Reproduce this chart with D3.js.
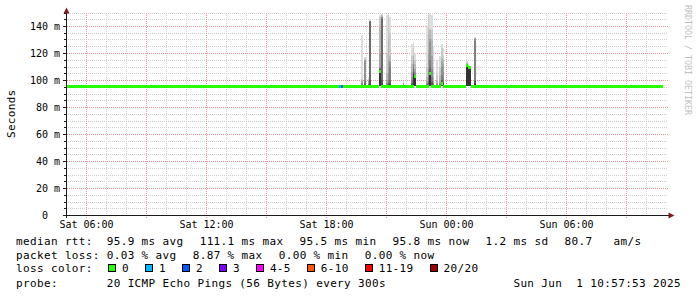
<!DOCTYPE html>
<html>
<head>
<meta charset="utf-8">
<script src="https://cdn.jsdelivr.net/npm/d3@7"></script>
<style>
    body { margin: 0; background: #fff; }
    svg { display: block; }
    text { font-family: "DejaVu Sans Mono", monospace; fill: #000; white-space: pre; }
</style>
</head>
<body>
<svg id="chart" width="697" height="297"></svg>
<script>
// time window and axis ticks
const graphStart = "2025-05-31 05:00";
const graphEnd = "2025-06-01 11:00";
const xLabelTimes = ["2025-05-31 06:00", "2025-05-31 12:00", "2025-05-31 18:00", "2025-06-01 00:00", "2025-06-01 06:00"];
const yTicks = [0, 20, 40, 60, 80, 100, 120, 140];
const yMax = 150;

// quiet median (ms) between first and last sample
const medianRuns = [["2025-05-31 05:00", "2025-06-01 10:50", 95.6]];
const lossSteps = [["2025-05-31 18:40", 1], ["2025-05-31 18:45", 2]];
const lowRtt = 95.4;

// steps with visible smoke: time, median, upper pings (outer -> inner)
const smokeTimes = [
    "2025-05-31 19:45", "2025-05-31 19:55", "2025-05-31 20:05", "2025-05-31 20:10",
    "2025-05-31 20:40", "2025-05-31 20:45", "2025-05-31 21:00", "2025-05-31 21:05",
    "2025-05-31 21:10", "2025-05-31 21:50", "2025-05-31 22:15", "2025-05-31 22:20",
    "2025-05-31 22:25", "2025-05-31 23:00", "2025-05-31 23:05", "2025-05-31 23:10",
    "2025-05-31 23:15", "2025-05-31 23:20", "2025-05-31 23:30", "2025-05-31 23:40",
    "2025-05-31 23:45", "2025-05-31 23:50", "2025-06-01 01:00", "2025-06-01 01:05",
    "2025-06-01 01:10", "2025-06-01 01:25"
];
const smokeMedians = [
    95.6, 95.6, 95.6, 95.6,
    107, 95.6, 95.6, 95.6,
    95.6, 95.6, 95.6, 95.6,
    103, 95.6, 95.6, 105,
    95.6, 95.6, 95.6, 95.6,
    98, 95.6, 111, 110,
    110, 95.6
];
const smokeTops = [
    [133, 101, 100, 99, 98, 97, 96.5, 96.3, 96.1, 96],
    [117, 116, 115, 115, 114, 100, 98, 97, 96.5, 96],
    [102, 101, 100, 99, 98, 97, 96.5, 96.3, 96.1, 96],
    [145, 144, 144, 144, 144, 144, 143, 100, 97, 96],
    [148, 147, 140, 120, 110, 109, 108.5, 108, 107.5, 107],
    [149, 148, 148, 147, 147, 146, 145, 100, 97, 96],
    [148, 120, 105, 100, 98, 97, 96.5, 96.3, 96.1, 96],
    [149, 148, 130, 115, 105, 100, 98, 97, 96.5, 96],
    [147, 135, 118, 114, 113, 110, 100, 98, 97, 96],
    [99, 98, 97.5, 97, 96.8, 96.6, 96.4, 96.2, 96.1, 96],
    [127, 118, 112, 106, 102, 100, 98, 97, 96.5, 96],
    [128, 124, 118, 115, 112, 110, 108, 106, 105, 104],
    [120, 115, 112, 108, 106, 104.5, 104, 103.5, 103.2, 103],
    [140, 110, 102, 99, 98, 97, 96.5, 96.3, 96.1, 96],
    [149, 148, 135, 120, 108, 102, 99, 97.5, 96.5, 96],
    [149, 138, 137, 130, 128, 115, 110, 107, 106, 105],
    [148, 137, 130, 118, 108, 102, 99, 97.5, 96.5, 96],
    [125, 110, 102, 99, 98, 97, 96.5, 96.3, 96.1, 96],
    [115, 104, 100, 98, 97, 96.5, 96.3, 96.2, 96.1, 96],
    [118, 110, 103, 100, 98, 97, 96.5, 96.3, 96.1, 96],
    [127, 124, 116, 114, 110, 104, 100, 99, 98.5, 98],
    [124, 118, 115, 112, 106, 101, 99, 98, 97, 96.5],
    [114, 113, 112.5, 112, 111.8, 111.5, 111.3, 111.2, 111.1, 111],
    [112, 111, 110.8, 110.6, 110.4, 110.3, 110.2, 110.1, 110.05, 110],
    [110.5, 110.4, 110.3, 110.2, 110.1, 110, 110, 110, 110, 110],
    [132, 131, 131, 130.5, 130, 129, 100, 99, 98, 97]
];

// legend
const rttValues = ["95.9", "111.1", "95.5", "95.8"];
const statKinds = ["avg", "max", "min", "now"];
const rttSd = "1.2";
const rttAmps = "80.7";
const lossValues = ["0.03", "8.87", "0.00", "0.00"];
const lossLabels = ["0", "1", "2", "3", "4-5", "6-10", "11-19", "20/20"];
const lossColors = ["#26ff00", "#00b8ff", "#0059ff", "#7e00ff", "#ff00ff", "#ff5500", "#ff0000", "#a10000"];
const probeText = "20 ICMP Echo Pings (56 Bytes) every 300s";
const stampText = "Sun Jun  1 10:57:53 2025";

const parse = d3.timeParse("%Y-%m-%d %H:%M");
const step = d3.timeMinute.every(5);

const svg = d3.select("#chart");

const x = d3.scaleTime()
    .domain([parse(graphStart), parse(graphEnd)])
    .range([66, 666]);
const y = d3.scaleLinear()
    .domain([0, yMax])
    .range([215, 12.5]);

const plotTop = y(yMax);
const plotBottom = y(0);
const px = v => Math.round(v) + 0.5;

// grid
const grid = svg.append("g").attr("shape-rendering", "crispEdges").attr("stroke-dasharray", "1,1");

const minorY = d3.range(5, yMax + 1, 5).filter(v => v % 20 !== 0);
grid.selectAll(".hminor")
    .data(minorY)
    .join("line")
    .attr("x1", 64).attr("x2", 668)
    .attr("y1", d => px(y(d))).attr("y2", d => px(y(d)))
    .attr("stroke", "#cfcfcf");

const hours = d3.timeHour.range(d3.timeHour.offset(parse(graphStart), 1), parse(graphEnd));
grid.selectAll(".vminor")
    .data(hours.filter(d => d.getHours() % 3 !== 0))
    .join("line")
    .attr("x1", d => px(x(d))).attr("x2", d => px(x(d)))
    .attr("y1", plotTop).attr("y2", plotBottom + 2)
    .attr("stroke", "#cfcfcf");

grid.selectAll(".hmajor")
    .data(yTicks.filter(v => v > 0))
    .join("line")
    .attr("x1", 63).attr("x2", 668)
    .attr("y1", d => px(y(d))).attr("y2", d => px(y(d)))
    .attr("stroke", "#ec9696");

grid.selectAll(".vmajor")
    .data(hours.filter(d => d.getHours() % 3 === 0))
    .join("line")
    .attr("x1", d => px(x(d))).attr("x2", d => px(x(d)))
    .attr("y1", plotTop).attr("y2", plotBottom + 3)
    .attr("stroke", "#ec9696");

// smoke: bands between lowest and upper pings, darker toward the median
const smoke = svg.append("g").attr("shape-rendering", "crispEdges");
smokeTimes.forEach((t, k) => {
    const t0 = parse(t);
    const x0 = Math.round(x(t0));
    const x1 = Math.round(x(step.offset(t0, 1)));
    smokeTops[k].forEach((hi, i) => {
        const g = Math.round(221 - i * 19);
        smoke.append("rect")
            .attr("x", x0)
            .attr("width", Math.max(1, x1 - x0))
            .attr("y", Math.round(y(hi)))
            .attr("height", Math.max(1, Math.round(y(lowRtt)) - Math.round(y(hi))))
            .attr("fill", d3.rgb(g, g, g));
    });
});

// median, coloured by loss, one short band per step
const stepMedian = new Map();
medianRuns.forEach(([from, to, med]) => {
    step.range(parse(from), parse(to)).forEach(t => stepMedian.set(+t, {med: med, loss: 0}));
});
smokeTimes.forEach((t, k) => stepMedian.get(+parse(t)).med = smokeMedians[k]);
lossSteps.forEach(([t, l]) => stepMedian.get(+parse(t)).loss = l);

const runs = [];
Array.from(stepMedian.keys()).sort((a, b) => a - b).forEach(k => {
    const s = stepMedian.get(k);
    const last = runs[runs.length - 1];
    if (last && last.med === s.med && last.loss === s.loss && +last.end === k) {
        last.end = step.offset(new Date(k), 1);
    } else {
        runs.push({start: new Date(k), end: step.offset(new Date(k), 1), med: s.med, loss: s.loss});
    }
});

svg.append("g")
    .attr("shape-rendering", "crispEdges")
    .selectAll("rect")
    .data(runs)
    .join("rect")
    .attr("x", d => Math.round(x(d.start)))
    .attr("width", d => Math.round(x(d.end)) - Math.round(x(d.start)))
    .attr("y", d => Math.round(y(d.med)) - 1)
    .attr("height", 3)
    .attr("fill", d => lossColors[d.loss]);

// axes
const axes = svg.append("g").attr("shape-rendering", "crispEdges").attr("stroke", "#1a1a1a");
axes.append("line").attr("x1", 63).attr("x2", 670).attr("y1", px(plotBottom)).attr("y2", px(plotBottom));
axes.append("line").attr("x1", 66.5).attr("x2", 66.5).attr("y1", plotBottom + 3).attr("y2", 11);
axes.selectAll(".ytick")
    .data(minorY)
    .join("line")
    .attr("x1", 64).attr("x2", 66)
    .attr("y1", d => px(y(d))).attr("y2", d => px(y(d)));
axes.selectAll(".ytickmaj")
    .data(yTicks)
    .join("line")
    .attr("x1", 63).attr("x2", 66)
    .attr("y1", d => px(y(d))).attr("y2", d => px(y(d)));

svg.append("path").attr("d", "M66.5,7.5L63.5,13.5L69.5,13.5Z").attr("fill", "#801a1a");
svg.append("path").attr("d", "M674.5,215.5L668.5,212.5L668.5,218.5Z").attr("fill", "#801a1a");

// tick labels
svg.append("g")
    .selectAll("text")
    .data(yTicks)
    .join("text")
    .attr("x", d => d === 0 ? 48 : 60)
    .attr("y", d => y(d) + 3.5)
    .attr("text-anchor", "end")
    .attr("font-size", 10)
    .text(d => d === 0 ? "0" : d + " m");

const fmt = d3.timeFormat("%a %H:%M");
svg.append("g")
    .selectAll("text")
    .data(xLabelTimes.map(parse))
    .join("text")
    .attr("x", d => x(d) + 0.5)
    .attr("y", 227.5)
    .attr("text-anchor", "middle")
    .attr("font-size", 10)
    .text(d => fmt(d));

svg.append("text")
    .attr("transform", "translate(14.5," + ((plotTop + plotBottom) / 2) + ") rotate(-90)")
    .attr("text-anchor", "middle")
    .attr("font-size", 11)
    .attr("letter-spacing", 0.3)
    .text("Seconds");

svg.append("text")
    .attr("transform", "translate(685,5) rotate(90)")
    .attr("font-size", 8.3)
    .style("fill", "#c0c0c0")
    .text("RRDTOOL / TOBI OETIKER");

// legend: each item placed after the previous one with a fixed gap
const legend = svg.append("g").attr("font-size", 11).attr("letter-spacing", 0.36);
const charW = 6.97;
const itemGap = 16.3;
const valueCol = 106.7;

function legendLine(head, items, yPos) {
    legend.append("text").attr("x", 16).attr("y", yPos).text(head);
    let lx = valueCol;
    items.forEach(s => {
        legend.append("text").attr("x", lx).attr("y", yPos).text(s);
        lx += s.length * charW + itemGap;
    });
}

legendLine("median rtt:",
    rttValues.map((v, i) => v + " ms " + statKinds[i]).concat([rttSd + " ms sd", rttAmps + "   am/s"]), 244.5);
legendLine("packet loss:", lossValues.map((v, i) => v + " % " + statKinds[i]), 258.5);
legendLine("probe:", [probeText], 286.5);
legend.append("text").attr("x", 16).attr("y", 272).text("loss color:");
legend.append("text").attr("x", 681).attr("y", 286.5).attr("text-anchor", "end").text(stampText);

let bx = 108;
lossLabels.forEach((lab, i) => {
    legend.append("rect")
        .attr("x", bx + 0.5).attr("y", 264.5)
        .attr("width", 7).attr("height", 7)
        .attr("fill", lossColors[i])
        .attr("stroke", "#000")
        .attr("shape-rendering", "crispEdges");
    legend.append("text").attr("x", bx + 14).attr("y", 272).text(lab);
    bx += 30 + charW * lab.length;
});
</script>
</body>
</html>
